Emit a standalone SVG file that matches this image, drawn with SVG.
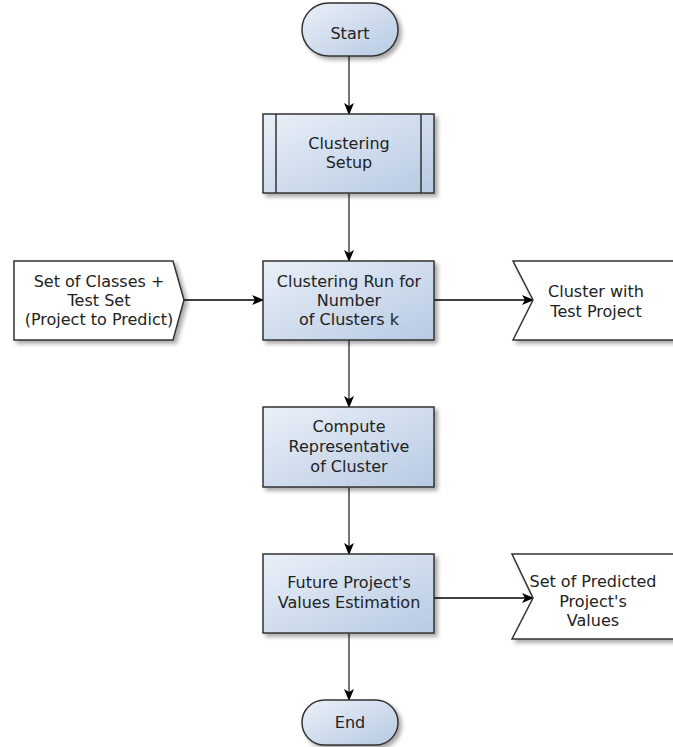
<svg xmlns="http://www.w3.org/2000/svg" width="673" height="747" viewBox="0 0 673 747">
  <defs>
    <linearGradient id="blueFill" x1="0" y1="0" x2="1" y2="1">
      <stop offset="0" stop-color="#eaf0f8"/>
      <stop offset="1" stop-color="#b7cae3"/>
    </linearGradient>
    <filter id="shadow" x="-10%" y="-10%" width="130%" height="130%">
      <feDropShadow dx="3" dy="3" stdDeviation="2" flood-color="#000" flood-opacity="0.35"/>
    </filter>
    <marker id="arrow" viewBox="0 0 12 10" refX="11" refY="5" markerWidth="12" markerHeight="10" markerUnits="userSpaceOnUse" orient="auto">
      <path d="M0,0 L12,5 L0,10 L3,5 Z" fill="#000"/>
    </marker>
  </defs>
  <style>
    .shape { stroke: #333; stroke-width: 1.5; filter: url(#shadow); }
    .blue { fill: url(#blueFill); }
    .white { fill: #fff; }
    .lbl { font-family: "DejaVu Sans", Verdana, sans-serif; font-size: 16px; fill: #222; text-anchor: middle; }
    .conn { fill: none; stroke-width: 1.5; marker-end: url(#arrow); }
    .v { stroke: #444; }
    .h { stroke: #000; }
  </style>
  <rect width="673" height="747" fill="#fff"/>

  <g id="connectors">
    <line class="conn v" x1="349" y1="56" x2="349" y2="114"/>
    <line class="conn v" x1="349" y1="193" x2="349" y2="261"/>
    <line class="conn v" x1="349" y1="340" x2="349" y2="407"/>
    <line class="conn v" x1="349" y1="487" x2="349" y2="554"/>
    <line class="conn v" x1="349" y1="633" x2="349" y2="700"/>
    <line class="conn h" x1="184" y1="300" x2="263" y2="300"/>
    <line class="conn h" x1="434" y1="300" x2="533" y2="300"/>
    <line class="conn h" x1="434" y1="598" x2="533" y2="598"/>
  </g>

  <g id="start">
    <rect class="shape blue" x="302" y="3" width="96" height="53" rx="26.5"/>
    <text class="lbl" x="350" y="39">Start</text>
  </g>

  <g id="clustering-setup">
    <rect class="shape blue" x="263" y="114" width="171" height="79"/>
    <line x1="276" y1="114" x2="276" y2="193" stroke="#333" stroke-width="1.5"/>
    <line x1="421" y1="114" x2="421" y2="193" stroke="#333" stroke-width="1.5"/>
    <text class="lbl" x="349" y="149">Clustering</text>
    <text class="lbl" x="349" y="168">Setup</text>
  </g>

  <g id="input-classes">
    <polygon class="shape white" points="14,261 173,261 184,300 173,340 14,340"/>
    <text class="lbl" x="99" y="287">Set of Classes +</text>
    <text class="lbl" x="99" y="306">Test Set</text>
    <text class="lbl" x="99" y="325">(Project to Predict)</text>
  </g>

  <g id="clustering-run">
    <rect class="shape blue" x="263" y="261" width="171" height="79"/>
    <text class="lbl" x="349" y="287">Clustering Run for</text>
    <text class="lbl" x="349" y="306">Number</text>
    <text class="lbl" x="349" y="325">of Clusters k</text>
  </g>

  <g id="cluster-output">
    <polygon class="shape white" points="513,261 680,261 680,340 513,340 533,300"/>
    <text class="lbl" x="596" y="297">Cluster with</text>
    <text class="lbl" x="596" y="317">Test Project</text>
  </g>

  <g id="compute-representative">
    <rect class="shape blue" x="263" y="407" width="171" height="80"/>
    <text class="lbl" x="349" y="432">Compute</text>
    <text class="lbl" x="349" y="452">Representative</text>
    <text class="lbl" x="349" y="472">of Cluster</text>
  </g>

  <g id="values-estimation">
    <rect class="shape blue" x="263" y="554" width="171" height="79"/>
    <text class="lbl" x="349" y="588">Future Project's</text>
    <text class="lbl" x="349" y="608">Values Estimation</text>
  </g>

  <g id="predicted-output">
    <polygon class="shape white" points="512,554 680,554 680,639 512,639 533,598"/>
    <text class="lbl" x="593" y="587">Set of Predicted</text>
    <text class="lbl" x="593" y="607">Project's</text>
    <text class="lbl" x="593" y="626">Values</text>
  </g>

  <g id="end">
    <rect class="shape blue" x="302" y="700" width="96" height="45" rx="22.5"/>
    <text class="lbl" x="350" y="728">End</text>
  </g>
</svg>
